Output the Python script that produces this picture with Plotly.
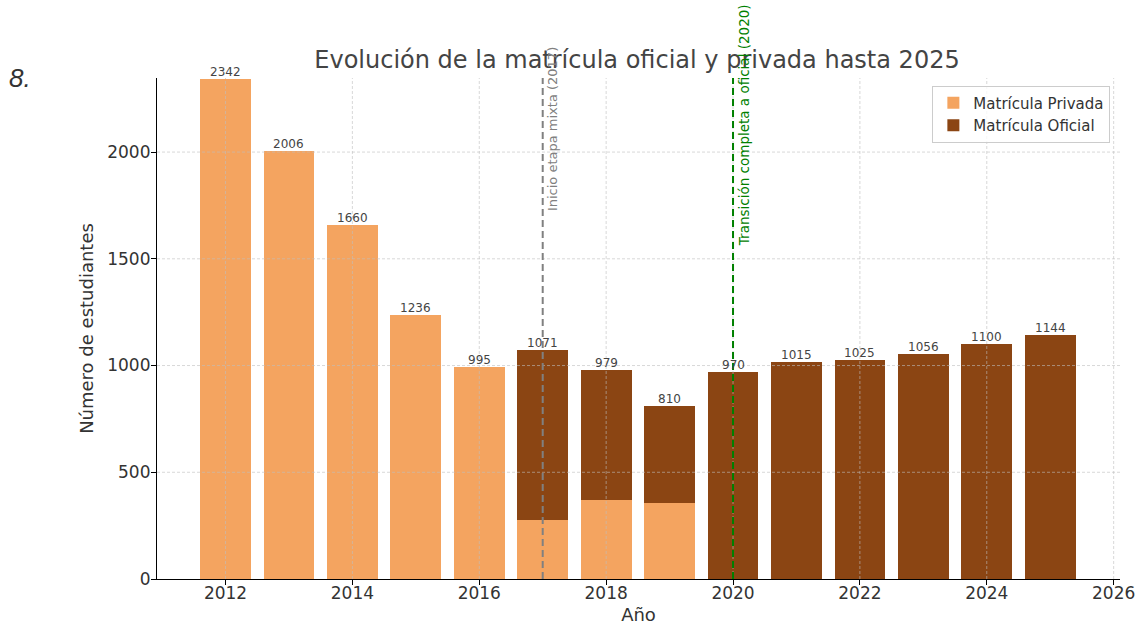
import plotly.graph_objects as go

years = [2012, 2013, 2014, 2015, 2016, 2017, 2018, 2019, 2020, 2021, 2022, 2023, 2024, 2025]
privada = [2342, 2006, 1660, 1236, 995, 278, 370, 355, 0, 0, 0, 0, 0, 0]
oficial = [0, 0, 0, 0, 0, 793, 609, 455, 970, 1015, 1025, 1056, 1100, 1144]
totales = [p + o for p, o in zip(privada, oficial)]
x_ticks = [2012, 2014, 2016, 2018, 2020, 2022, 2024, 2026]
y_ticks = [0, 500, 1000, 1500, 2000]

C_PRIV = "#F4A460"
C_OFIC = "#8B4513"
FONT = "DejaVu Sans"
X_RANGE = [2010.92, 2026.1]
Y_RANGE = [0, 2347]

fig = go.Figure()
fig.add_trace(go.Bar(x=years, y=privada, name="Matrícula Privada", marker_color=C_PRIV,
                     marker_line_width=0, width=0.8))
fig.add_trace(go.Bar(x=years, y=oficial, name="Matrícula Oficial", marker_color=C_OFIC,
                     marker_line_width=0, width=0.8))

# grid lines drawn above the bars, as in the reference
GRID = dict(color="rgba(190,190,190,0.6)", width=1, dash="3px,2px")
for xv in x_ticks:
    fig.add_shape(type="line", x0=xv, x1=xv, y0=0, y1=1, yref="paper", layer="above", line=GRID)
for yv in y_ticks[1:]:
    fig.add_shape(type="line", x0=0, x1=1, xref="paper", y0=yv, y1=yv, layer="above", line=GRID)

for x, t in zip(years, totales):
    fig.add_annotation(x=x, y=t, text=str(t), showarrow=False, yanchor="bottom", yshift=-2,
                       font=dict(family=FONT, size=12, color="#444444"))

fig.add_shape(type="line", x0=2017, x1=2017, y0=0, y1=1, yref="paper", layer="above",
              line=dict(color="grey", width=2, dash="7px,4px"))
fig.add_shape(type="line", x0=2020, x1=2020, y0=0, y1=1, yref="paper", layer="above",
              line=dict(color="green", width=2, dash="7px,4px"))
fig.add_annotation(x=2017, y=1715, text="Inicio etapa mixta (2017)", textangle=-90,
                   showarrow=False, xanchor="left", yanchor="bottom", xshift=1,
                   font=dict(family=FONT, size=13, color="grey"))
fig.add_annotation(x=2020, y=1550, text="Transición completa a oficial (2020)", textangle=-90,
                   showarrow=False, xanchor="left", yanchor="bottom", xshift=1,
                   font=dict(family=FONT, size=13.5, color="green"))

fig.add_annotation(xref="paper", yref="paper", x=-0.156, y=1.0, xanchor="left", yanchor="middle",
                   text="<i>8.</i>", showarrow=False,
                   font=dict(family="Liberation Sans", size=26, color="#333333"))

fig.update_layout(
    barmode="stack",
    width=1137, height=625,
    margin=dict(l=157, r=17, t=78, b=46, autoexpand=False),
    paper_bgcolor="white", plot_bgcolor="white",
    font=dict(family=FONT, size=17, color="#333333"),
    title=dict(text="Evolución de la matrícula oficial y privada hasta 2025",
               x=(637 / 1137), xanchor="center", xref="container",
               y=1 - 60 / 625, yref="container", yanchor="middle",
               automargin=False,
               font=dict(family=FONT, size=24, color="#444444")),
    legend=dict(x=0.99, y=0.985, xanchor="right", yanchor="top", traceorder="normal",
                bgcolor="rgba(255,255,255,0.8)", bordercolor="#cccccc", borderwidth=1,
                font=dict(family=FONT, size=15, color="#333333")),
    xaxis=dict(range=X_RANGE, tickmode="array", tickvals=x_ticks,
               showgrid=False, automargin=False,
               showline=True, linecolor="black", linewidth=1.2,
               ticks="outside", ticklen=5, tickcolor="black",
               tickfont=dict(size=17), ticklabelstandoff=-7,
               title=dict(text="Año", font=dict(size=18), standoff=9),
               zeroline=False),
    yaxis=dict(range=Y_RANGE, tickmode="array", tickvals=y_ticks,
               showgrid=False, automargin=False,
               showline=True, linecolor="black", linewidth=1.2,
               ticks="outside", ticklen=5, tickcolor="black",
               tickfont=dict(size=17), ticklabelstandoff=-3,
               title=dict(text="Número de estudiantes", font=dict(size=18), standoff=8),
               zeroline=False),
)

fig.write_html("out.html", config={"displayModeBar": False},
               post_script="document.body.style.margin='0';document.body.style.padding='0';")
